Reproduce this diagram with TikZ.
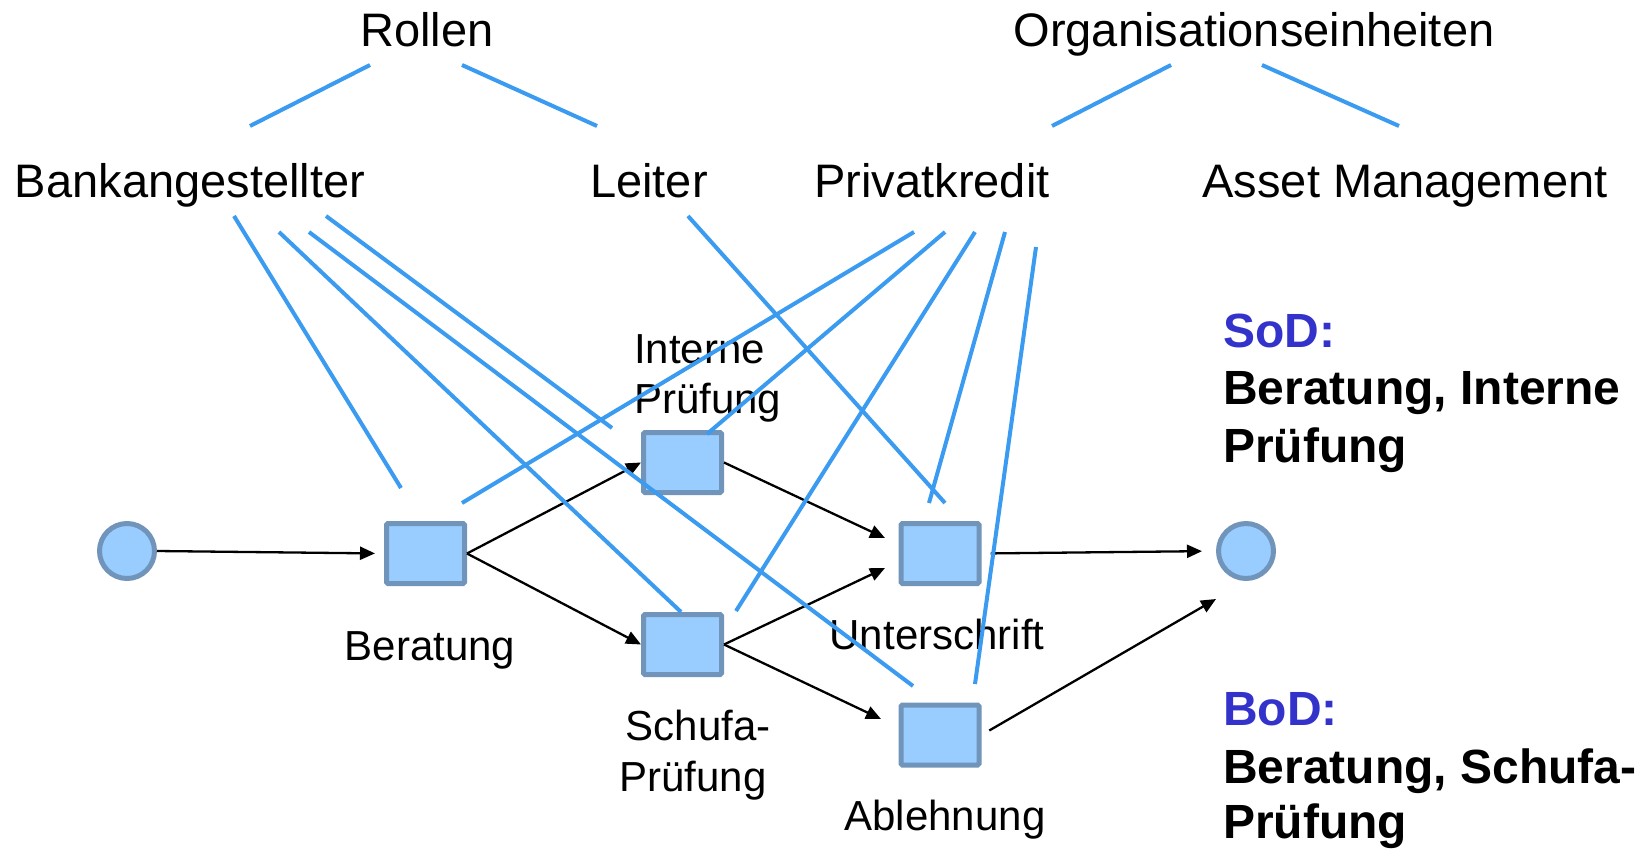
\documentclass[tikz,border=0pt]{standalone}
\usepackage{fontspec}
\setmainfont{Liberation Sans}
\usetikzlibrary{arrows.meta,calc}
\definecolor{linkblue}{RGB}{58,155,240}
\definecolor{boxfill}{RGB}{153,204,255}
\definecolor{boxline}{RGB}{112,148,186}
\definecolor{headblue}{RGB}{51,51,204}

\begin{document}
\begin{tikzpicture}[x=1pt,y=-1pt,
  toplabel/.style={anchor=base,inner sep=0pt,font=\fontsize{47}{56}\selectfont},
  steplabel/.style={anchor=base,inner sep=0pt,font=\fontsize{42}{50}\selectfont},
  note/.style={anchor=base west,inner sep=0pt,font=\fontsize{48}{58}\selectfont\bfseries},
  task/.style={draw=boxline,fill=boxfill,line width=5pt,rounded corners=1.5pt,
    minimum width=78pt,minimum height=60pt,inner sep=0pt},
  place/.style={circle,draw=boxline,fill=boxfill,line width=5pt,minimum size=55pt,inner sep=0pt},
  flow/.style={line width=2.3pt,-{Triangle[length=15pt,width=13pt]}},
  assign/.style={linkblue,line width=4pt},
]
\useasboundingbox (0,0) rectangle (1651,849);

% hierarchy labels
\node[toplabel] (rollen) at (427,46) {Rollen};
\node[toplabel] (org) at (1254,46) {Organisationseinheiten};
\node[toplabel] (bank) at (190,197) {Bankangestellter};
\node[toplabel] (leiter) at (649,197) {Leiter};
\node[toplabel] (priv) at (932,197) {Privatkredit};
\node[toplabel] (asset) at (1405,197) {Asset Management};

% process net
\node[place] (start) at (127,551) {};
\node[task] (ber) at (425.5,553.5) {};
\node[task] (int) at (682.5,462.5) {};
\node[task] (sch) at (682.5,644.5) {};
\node[task] (unt) at (940,553.5) {};
\node[task] (abl) at (940,735) {};
\node[place] (end) at (1246,551) {};

% step labels
\node[steplabel,anchor=base west] (intA) at (634,363) {Interne};
\node[steplabel,anchor=base west] (intB) at (634,413) {Prüfung};
\node[steplabel] (berL) at (430,660) {Beratung};
\node[steplabel] (schA) at (698,740) {Schufa-};
\node[steplabel] (schB) at (693,791) {Prüfung};
\node[steplabel] (untL) at (937,649) {Unterschrift};
\node[steplabel] (ablL) at (945,830) {Ablehnung};

% constraint notes
\node[note,text=headblue] (sod) at (1223,347) {SoD:};
\node[note] (sodA) at (1223,404) {Beratung, Interne};
\node[note] (sodB) at (1223,462) {Prüfung};
\node[note,text=headblue] (bod) at (1223,725) {BoD:};
\node[note] (bodA) at (1223,783) {Beratung, Schufa-};
\node[note] (bodB) at (1223,838) {Prüfung};

% arrow end points beside the transitions
\coordinate (untIn1) at (885,538);
\coordinate (untIn2) at (885,568);
\coordinate (ablIn) at (881,719);
\coordinate (endIn) at (1216,599);

% control flow
\draw[flow,shorten >=9pt] (start.east) -- (ber.west);
\draw[flow] (ber.east) -- (int.west);
\draw[flow] (ber.east) -- (sch.west);
\draw[flow] (int.east) -- (untIn1);
\draw[flow] (sch.east) -- (untIn2);
\draw[flow] (sch.east) -- (ablIn);
\draw[flow,shorten <=9pt,shorten >=14pt] (unt.east) -- (end.west);
\draw[flow,shorten <=9pt] (abl.east) -- (endIn);

% hierarchy edges
\coordinate (rolL) at (370,65);  \coordinate (bankT) at (250,126);
\coordinate (rolR) at (462,65);  \coordinate (leitT) at (597,126);
\coordinate (orgL) at (1171,65); \coordinate (privT) at (1052,126);
\coordinate (orgR) at (1262,65); \coordinate (assetT) at (1399,126);
\draw[assign] (rolL) -- (bankT);
\draw[assign] (rolR) -- (leitT);
\draw[assign] (orgL) -- (privT);
\draw[assign] (orgR) -- (assetT);

% assignments of roles and units to steps
\coordinate (bk1) at (234,216);  \coordinate (berT1) at (401,488);
\coordinate (bk2) at (279,232);  \coordinate (schT1) at (681,612);
\coordinate (bk3) at (309,232);  \coordinate (ablT1) at (913,686);
\coordinate (bk4) at (326,216);  \coordinate (intT1) at (612,428);
\coordinate (lt1) at (688,216);  \coordinate (untT1) at (945,503);
\coordinate (pk1) at (914,232);  \coordinate (berT2) at (462,503);
\coordinate (pk2) at (945,232);  \coordinate (intT2) at (707,434);
\coordinate (pk3) at (975,232);  \coordinate (schT2) at (736,611);
\coordinate (pk4) at (1005,232); \coordinate (untT2) at (929,503);
\coordinate (pk5) at (1036,247); \coordinate (ablT2) at (975,684);
\draw[assign] (bk1) -- (berT1);
\draw[assign] (bk2) -- (schT1);
\draw[assign] (bk3) -- (ablT1);
\draw[assign] (bk4) -- (intT1);
\draw[assign] (lt1) -- (untT1);
\draw[assign] (pk1) -- (berT2);
\draw[assign] (pk2) -- (intT2);
\draw[assign] (pk3) -- (schT2);
\draw[assign] (pk4) -- (untT2);
\draw[assign] (pk5) -- (ablT2);
\end{tikzpicture}
\end{document}
